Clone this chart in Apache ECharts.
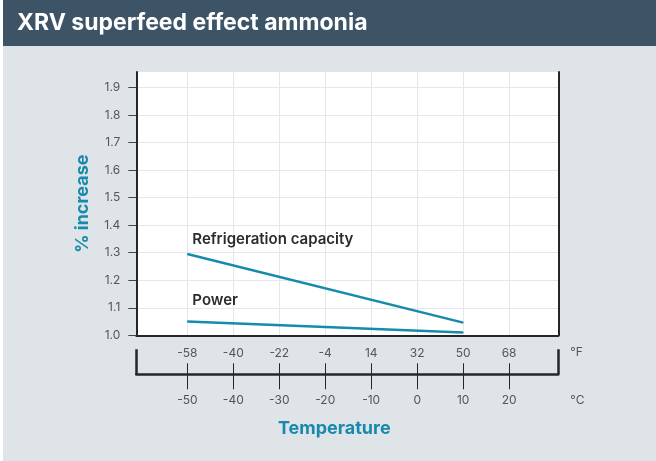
<!DOCTYPE html>
<html>
<head>
<meta charset="utf-8">
<script src="https://cdn.jsdelivr.net/npm/echarts@6/dist/echarts.min.js"></script>
<style>
  html, body { margin: 0; padding: 0; background: #ffffff; }
  #chart { position: absolute; left: 3px; top: 0; width: 653px; height: 461px; background: #dfe4e8; }
</style>
</head>
<body>
<div id="chart"></div>
<script>
// data
const tempC = [-50, 10];
const capacity = [1.295, 1.046];
const power = [1.05, 1.01];
const cTicks = [-50, -40, -30, -20, -10, 0, 10, 20];
const fLabels = ['-58', '-40', '-22', '-4', '14', '32', '50', '68'];
const yTicks = [1.0, 1.1, 1.2, 1.3, 1.4, 1.5, 1.6, 1.7, 1.8, 1.9];

const X_MIN = -61.1;
const X_MAX = 30.7;
const Y_MIN = 1.0;
const Y_MAX = 1.956;
const teal = '#178aab';
const dark = '#262626';
const font = 'Inter';

const chart = echarts.init(document.getElementById('chart'));

// bracket axis below the plot, shared settings
const bracket = {
  type: 'value', gridIndex: 0, position: 'bottom', offset: 39,
  min: X_MIN, max: X_MAX,
  splitLine: { show: false }
};

const lineLabel = (dy) => ({
  show: true, position: 'top', align: 'left', offset: [5, dy],
  formatter: p => p.dataIndex === 0 ? p.seriesName : '',
  color: '#2b2b2b', fontSize: 15, fontWeight: 600, fontFamily: font
});

const option = {
  animation: false,
  graphic: [
    { type: 'rect', left: 0, top: 0, shape: { width: 653, height: 46 }, style: { fill: '#3d5467' }, z: -1 }
  ],
  title: {
    text: 'XRV superfeed effect ammonia',
    left: 14, top: 12, padding: 0,
    textStyle: { color: '#ffffff', fontSize: 23, fontWeight: 'bold', fontFamily: font }
  },
  grid: { left: 133.3, right: 97.7, top: 72, bottom: 125.7, show: true, backgroundColor: '#ffffff', borderWidth: 0 },
  xAxis: [
    {
      type: 'value', min: X_MIN, max: X_MAX,
      axisLine: { show: true, onZero: false, lineStyle: { color: dark, width: 2 } },
      axisTick: { show: false, customValues: cTicks },
      axisLabel: { show: false, customValues: cTicks },
      splitLine: { show: true, lineStyle: { color: '#e4e8ec', width: 1 } }
    },
    Object.assign({}, bracket, {
      name: '°F', nameLocation: 'end', nameGap: 12,
      nameTextStyle: { color: '#555', fontSize: 12, fontFamily: font, verticalAlign: 'bottom', lineHeight: 43 },
      axisLine: { show: true, onZero: false, lineStyle: { color: dark, width: 2.5 } },
      axisTick: { show: true, inside: true, length: 11, customValues: cTicks, lineStyle: { color: dark, width: 1 } },
      axisLabel: {
        show: true, inside: true, margin: 15, customValues: cTicks,
        color: '#555', fontSize: 12, fontFamily: font,
        formatter: v => fLabels[cTicks.indexOf(v)]
      }
    }),
    Object.assign({}, bracket, {
      name: 'Temperature', nameLocation: 'middle', nameGap: 45,
      nameTextStyle: { color: teal, fontSize: 18, fontWeight: 'bold', fontFamily: font, padding: [0, 26, 0, 0] },
      axisLine: { show: false, onZero: false },
      axisTick: { show: true, inside: false, length: 15, customValues: cTicks, lineStyle: { color: dark, width: 1 } },
      axisLabel: { show: true, margin: 20, customValues: cTicks, color: '#555', fontSize: 12, fontFamily: font }
    }),
    Object.assign({}, bracket, {
      name: '°C', nameLocation: 'end', nameGap: 12,
      nameTextStyle: { color: '#555', fontSize: 12, fontFamily: font, verticalAlign: 'top', lineHeight: 52 },
      axisLine: { show: false, onZero: false },
      axisTick: { show: true, inside: true, length: 25, customValues: [X_MIN, X_MAX], lineStyle: { color: dark, width: 2.5 } },
      axisLabel: { show: false }
    })
  ],
  yAxis: [
    {
      type: 'value', min: Y_MIN, max: Y_MAX, interval: 0.1,
      name: '% increase', nameLocation: 'middle', nameGap: 45,
      nameTextStyle: { color: teal, fontSize: 18, fontWeight: 'bold', fontFamily: font },
      axisLine: { show: true, onZero: false, lineStyle: { color: dark, width: 2 } },
      axisTick: { show: true, length: 8, customValues: yTicks, lineStyle: { color: '#444', width: 1 } },
      axisLabel: {
        margin: 16, customValues: yTicks, color: '#555', fontSize: 12, fontFamily: font,
        formatter: v => v.toFixed(1)
      },
      splitLine: { show: true, lineStyle: { color: '#e4e8ec', width: 1 } }
    },
    {
      // right border of the plot
      type: 'value', position: 'right', min: Y_MIN, max: Y_MAX,
      axisLine: { show: true, onZero: false, lineStyle: { color: dark, width: 2 } },
      axisTick: { show: false }, axisLabel: { show: false }, splitLine: { show: false }
    }
  ],
  series: [
    {
      name: 'Refrigeration capacity', type: 'line', xAxisIndex: 0, yAxisIndex: 0,
      data: tempC.map((t, i) => [t, capacity[i]]),
      symbol: 'circle', symbolSize: 1, showSymbol: true,
      itemStyle: { color: teal },
      lineStyle: { color: teal, width: 2.5 },
      label: lineLabel(-2)
    },
    {
      name: 'Power', type: 'line', xAxisIndex: 0, yAxisIndex: 0,
      data: tempC.map((t, i) => [t, power[i]]),
      symbol: 'circle', symbolSize: 1, showSymbol: true,
      itemStyle: { color: teal },
      lineStyle: { color: teal, width: 2.5 },
      label: lineLabel(-8)
    }
  ]
};

chart.setOption(option);
</script>
</body>
</html>
